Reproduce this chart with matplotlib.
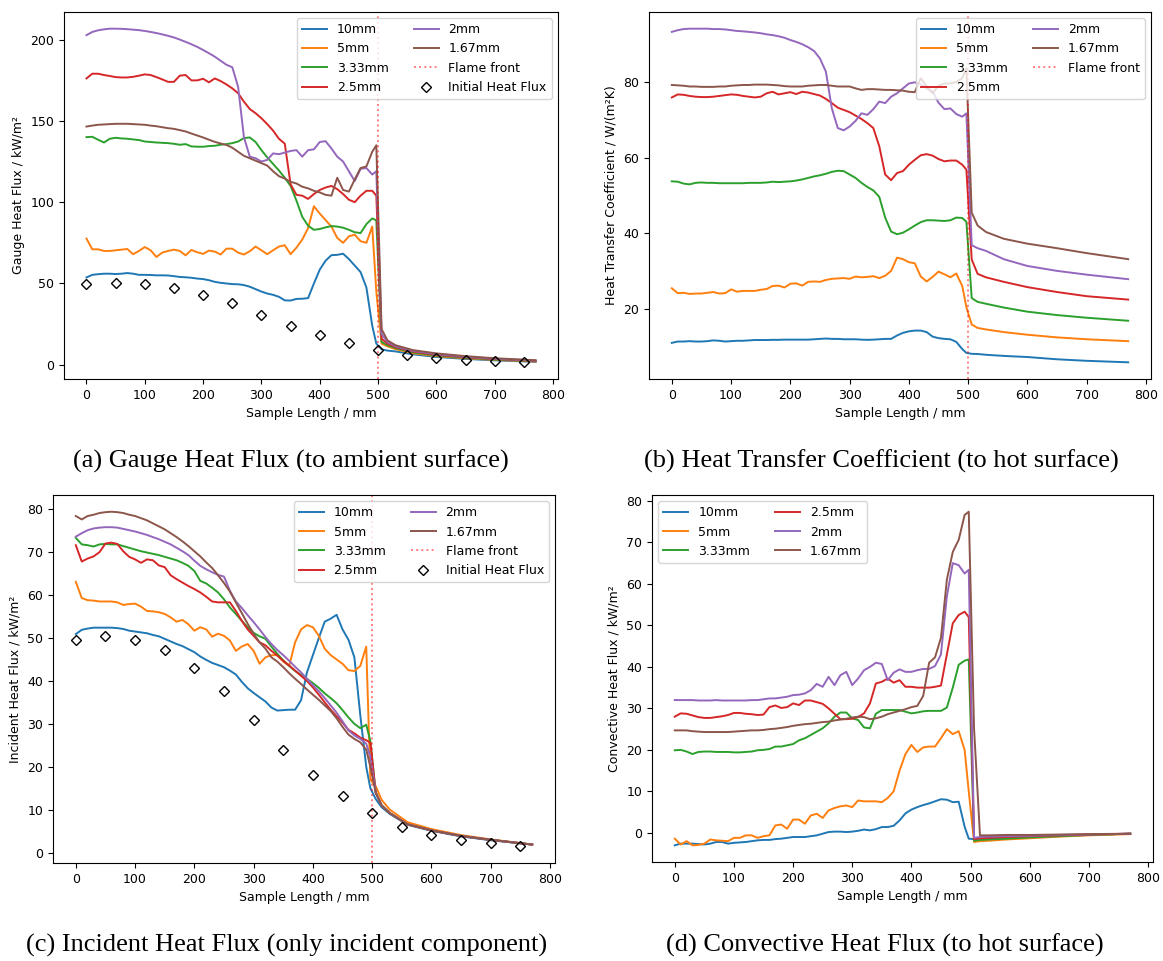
import matplotlib
matplotlib.use("Agg")
import matplotlib.pyplot as plt

plt.rcParams["font.size"] = 9
plt.rcParams["lines.linewidth"] = 1.4

# sample positions along the specimen (mm)
sample_x = list(range(0, 500, 10)) + [497, 506, 516, 530, 560, 600, 650, 700, 770]
thickness_labels = ["10mm", "5mm", "3.33mm", "2.5mm", "2mm", "1.67mm"]

# initial (calibration) heat flux, kW/m2
initial_x = [0, 50, 100, 150, 200, 250, 300, 350, 400, 450, 500, 550, 600, 650, 700, 750]
initial_flux = [49.5, 50.5, 49.5, 47.1, 43.1, 37.7, 30.9, 24.0, 18.2, 13.2, 9.3, 6.0, 4.2, 3.0, 2.2, 1.5]

# (a) gauge heat flux, kW/m2
gauge_10 = [53.7, 55.3, 55.7, 56, 56, 55.8, 56, 56.4, 56, 55.3, 55.3, 55.2, 55, 55, 54.9, 54.5, 54, 53.8, 53.5, 53,
            52.7, 52, 51, 50.4, 50, 49.6, 49.5, 49, 48, 46.5, 45, 43.8, 43, 41.8, 39.6, 39.5, 40.5, 40.6, 41, 50,
            58.5, 64, 67.4, 67.6, 68.3, 65, 61, 57, 47.5, 24, 13,
            9.5, 8.7, 8.2, 6.4, 4.8, 3.6, 2.7, 1.8]
gauge_5 = [77.6, 71, 71, 70, 70, 70.4, 70.8, 71.2, 68, 70, 72.4, 70.4, 66.3, 69, 70, 70.8, 70, 67.3, 70.6, 69.2,
           68.2, 70.2, 69.6, 67.8, 71.4, 71.4, 69, 67.8, 69.8, 72.7, 70.4, 68, 70.4, 72.7, 73.5, 68, 72, 77, 84, 97.5,
           93, 89, 85, 78, 75, 79, 80, 76, 75, 85, 45,
           13, 11.3, 9.6, 7.1, 5.3, 4.0, 3.0, 2.0]
gauge_333 = [140, 140.2, 138.4, 136.7, 139, 139.6, 139.2, 139, 138.6, 138.2, 137.3, 137, 136.7, 136.5, 136.3, 135.9,
             135.3, 135.7, 134.3, 134.1, 134.1, 134.5, 134.7, 135.3, 135.7, 136.3, 137.3, 139.4, 139.8, 137, 132,
             127.5, 123.5, 119.5, 115, 110, 101, 91, 85.5, 83, 83.5, 84.5, 85.3, 85, 84.3, 83, 81.5, 81, 86.5, 90,
             88.8,
             14, 12, 10.2, 7.6, 5.7, 4.3, 3.2, 2.2]
gauge_25 = [176.1, 179, 179, 178.2, 177.6, 176.9, 176.7, 176.7, 177.1, 177.8, 178.6, 178.2, 176.9, 175.5, 174, 174,
            177.8, 178.2, 174.9, 174.9, 175.9, 173.7, 176.1, 174.5, 172.4, 170, 167, 161.8, 157.3, 154.7, 151.6, 148,
            144, 139, 136, 111, 104.5, 104, 102, 105, 107.5, 109, 110, 108, 105, 101.5, 100, 104, 107, 107, 104,
            16, 13, 10.8, 8.1, 6.1, 4.6, 3.5, 2.4]
gauge_2 = [202.7, 204.7, 205.7, 206.3, 206.7, 206.7, 206.6, 206.4, 206.1, 205.8, 205.3, 204.7, 204, 203.2, 202.3,
           201.3, 200, 198.6, 197.1, 195.5, 193.6, 191.6, 189.5, 187, 184.5, 183, 171, 140, 128, 127, 125, 126, 130,
           129.5, 130.5, 131.5, 132, 128, 132, 132.5, 137, 137.5, 133, 128, 125, 119, 113, 120.5, 121, 117, 119,
           19, 14, 11.3, 8.5, 6.5, 4.9, 3.7, 2.6]
gauge_167 = [146.5, 147.1, 147.6, 147.8, 148, 148.2, 148.2, 148.2, 148, 147.8, 147.6, 147.1, 146.7, 146.1, 145.5,
             145.1, 144.3, 143.5, 142.2, 141, 139.8, 138.4, 137.1, 136.1, 135.2, 133.5, 131, 128.5, 127, 125.5, 124,
             122.5, 119, 116, 114.5, 112.5, 111.5, 109.5, 108.5, 107, 106, 104.5, 104, 115, 107.5, 106.5, 114, 121,
             122, 131, 135,
             22, 15, 12, 9, 7, 5.3, 4.0, 2.8]

# (b) heat transfer coefficient, W/(m2K)
htc_10 = [10.95, 11.3, 11.3, 11.4, 11.3, 11.3, 11.4, 11.6, 11.5, 11.3, 11.4, 11.5, 11.5, 11.6, 11.7, 11.7, 11.7,
          11.75, 11.75, 11.8, 11.8, 11.8, 11.8, 11.8, 11.9, 12, 12.1, 12, 12, 11.9, 11.9, 11.9, 11.8, 11.75, 11.8,
          11.9, 12, 12, 12.9, 13.6, 14, 14.2, 14.2, 13.8, 12.6, 12.2, 12, 11.9, 11.2, 9.3, 8.3,
          8.05, 8.0, 7.8, 7.5, 7.2, 6.6, 6.2, 5.8]
htc_5 = [25.4, 24.1, 24.2, 23.9, 24, 24, 24.2, 24.4, 24, 24.1, 25.1, 24.5, 24.7, 24.7, 24.7, 25, 25.2, 26, 26.1,
         25.6, 26.6, 26.7, 26.1, 27.1, 27.2, 27.1, 27.6, 27.9, 28, 28.1, 27.9, 28.5, 28.3, 28.4, 28.6, 28.1, 28.7, 30,
         33.5, 33.1, 32.3, 32, 28.5, 27.2, 28.4, 29.8, 29.1, 28.3, 29.3, 26, 20.4,
         15.8, 14.9, 14.5, 13.8, 13.1, 12.4, 11.9, 11.4]
htc_333 = [53.7, 53.6, 53.1, 52.9, 53.3, 53.4, 53.3, 53.3, 53.2, 53.2, 53.2, 53.2, 53.2, 53.3, 53.3, 53.3, 53.4, 53.6,
           53.5, 53.6, 53.7, 53.9, 54.2, 54.6, 55, 55.3, 55.7, 56.2, 56.5, 56.4, 55.5, 54.6, 53.3, 52.2, 51.3, 49.6,
           44.1, 40.4, 39.7, 40.1, 41, 42, 42.9, 43.4, 43.4, 43.3, 43.2, 43.4, 44.1, 44, 43,
           22.8, 21.8, 21.3, 20.3, 19.2, 18.3, 17.6, 16.8]
htc_25 = [75.9, 76.7, 76.6, 76.3, 76.1, 76, 76, 76.1, 76.3, 76.5, 76.7, 76.6, 76.3, 76.1, 75.9, 76.1, 77, 77.4, 76.7,
          77, 77.3, 76.8, 77.4, 77.2, 76.8, 76.4, 75.5, 74.4, 73.2, 72.6, 72, 71.1, 70.2, 69.1, 67.8, 63, 55.5, 54,
          55.9, 56.4, 58.1, 59.4, 60.6, 60.9, 60.5, 59.6, 59, 59.2, 59.2, 58.1, 56.8,
          33, 29.2, 28.3, 27.1, 25.7, 24.4, 23.3, 22.4]
htc_2 = [93.25, 93.7, 94, 94.1, 94.1, 94.1, 94.1, 94, 94, 93.9, 93.7, 93.5, 93.4, 93.25, 93.1, 92.9, 92.6, 92.4,
         92.1, 91.7, 91.1, 90.6, 90, 89.2, 88.2, 86.2, 82.7, 73, 67.8, 67.2, 68.2, 69.7, 71.7, 71.3, 72.8, 74.8, 74.4,
         76.1, 77, 78.3, 79.6, 79.9, 79.4, 78.3, 77.5, 74.5, 72.8, 73, 71.5, 70.8, 71.7,
         36.8, 36, 35.3, 33.1, 31.3, 30, 29, 27.8]
htc_167 = [79.2, 79.1, 79, 78.8, 78.8, 78.7, 78.7, 78.7, 78.8, 78.8, 79, 79.1, 79.2, 79.2, 79.3, 79.3, 79.3, 79.2,
           79.1, 78.9, 78.8, 78.8, 78.8, 79, 79.1, 79.2, 79.2, 79, 78.8, 78.8, 78.8, 78.3, 77.9, 78.1, 78.1, 78, 77.9,
           77.9, 77.8, 77.7, 77.4, 77.3, 81, 78.8, 77, 79, 79.6, 79.6, 80, 81, 83.6,
           45.4, 42, 40.3, 38.5, 37.2, 36, 34.7, 33.1]

# (c) incident heat flux, kW/m2
inc_10 = [50.9, 51.9, 52.2, 52.4, 52.4, 52.4, 52.4, 52.3, 52.1, 51.7, 51.5, 51.3, 51.1, 50.7, 50.4, 49.8, 49.2, 48.6,
          48.1, 47.4, 46.7, 45.7, 44.9, 44.2, 43.7, 43.2, 42.4, 41.5, 39.8, 38.3, 37.2, 36.2, 35.2, 33.8, 33.1, 33.2,
          33.3, 33.3, 35.5, 42, 46, 50, 53.8, 54.5, 55.4, 52, 49.6, 45.5, 32, 20, 15,
          12.5, 10.6, 9.0, 6.5, 5.1, 3.8, 2.9, 1.9]
inc_5 = [63.1, 59.3, 58.8, 58.7, 58.5, 58.5, 58.5, 58.3, 57.7, 57.9, 58, 57.3, 56.3, 56.2, 56, 55.6, 54.8, 53.8,
         54.2, 53.2, 51.7, 52.5, 52, 50.3, 51, 50.5, 49.4, 47, 48, 48.6, 47, 44, 45.5, 46, 46, 44.5, 43.5, 49, 52, 53,
         52.5, 50.5, 47.5, 46, 45, 44, 42.5, 42.3, 43.5, 48, 17,
         15.5, 12.3, 10, 7.1, 5.5, 4.1, 3.1, 1.9]
inc_333 = [73.3, 71.8, 71.6, 71.3, 71.8, 71.9, 71.8, 71.8, 71.4, 71, 70.6, 70.2, 69.9, 69.6, 69.3, 68.9, 68.5, 68.1,
           67.5, 66.8, 65.6, 63.3, 62.7, 61.7, 60.6, 59, 57.1, 55.6, 54, 52.5, 51.2, 50.4, 49.8, 48, 46.3, 44.8, 43.5,
           42.3, 41.4, 40.5, 39.5, 38.4, 37.1, 36, 34.8, 33.2, 31.5, 30, 29, 29.8, 26,
           14, 11, 9.2, 6.6, 5.2, 3.9, 3.0, 1.9]
inc_25 = [71.6, 67.8, 68.5, 69, 70, 72, 72.2, 71.9, 70.2, 68.9, 68.3, 67.5, 68.3, 68.1, 66.9, 66.5, 64.6, 63.7, 62.9,
          62.1, 61.4, 60.6, 59.6, 58.5, 58.3, 58.3, 58.3, 56.3, 54, 52, 50.5, 49, 48.3, 47, 45.9, 44.7, 43.6, 42.4,
          41.2, 40, 38.5, 36.8, 35, 33.3, 31.8, 30.3, 28.6, 27.8, 26.8, 26.2, 25.6,
          14, 11, 9.2, 6.6, 5.2, 3.9, 3.0, 1.9]
inc_2 = [73.6, 74.4, 75.1, 75.5, 75.7, 75.8, 75.8, 75.7, 75.4, 75.1, 74.8, 74.4, 74, 73.5, 73, 72.4, 71.8, 71, 70.2,
         69.3, 68, 66.8, 66, 65.3, 64.7, 64.3, 61, 58.5, 57, 55.3, 53.7, 52, 50.2, 48.6, 47.2, 46, 44.7, 43.3, 42,
         40.5, 39, 37.6, 36, 34.3, 32.6, 30.6, 28.5, 27.3, 26.5, 25.4, 22.3,
         14, 11, 9.2, 6.6, 5.2, 3.9, 3.0, 1.9]
inc_167 = [78.4, 77.6, 78.4, 78.7, 79.1, 79.3, 79.4, 79.3, 79.1, 78.7, 78.4, 77.9, 77.4, 76.7, 76, 75.3, 74.4, 73.5,
           72.5, 71.4, 70.2, 69, 67.6, 66.3, 64.6, 62.8, 60.8, 58.3, 55.8, 53.3, 51, 49, 47.5, 45.5, 44.5, 43.2,
           41.8, 40.5, 39.3, 38, 36.8, 35.6, 34.3, 33, 31.3, 29.3, 27.5, 26.5, 25.7, 24, 20,
           14, 11, 9.2, 6.6, 5.2, 3.9, 3.0, 1.9]

# (d) convective heat flux, kW/m2
conv_10 = [-3, -2.6, -2.6, -2.6, -2.7, -2.8, -2.6, -2.2, -2.2, -2.6, -2.4, -2.3, -2.2, -2, -1.8, -1.7, -1.7, -1.5,
           -1.4, -1.2, -1, -1, -1, -0.8, -0.6, -0.2, 0.2, 0.3, 0.3, 0.2, 0.3, 0.5, 0.8, 0.6, 0.9, 1.4, 1.4, 1.7, 3,
           4.7, 5.6, 6.2, 6.7, 7.1, 7.6, 8.1, 8, 7.4, 7.5, 1.5, -1.4,
           -1.5, -1.5, -1.4, -1.2, -1.0, -0.7, -0.5, -0.2]
conv_5 = [-1.4, -2.8, -2, -3, -2.9, -2.6, -1.6, -1.8, -1.9, -2, -1.2, -1.2, -0.6, -0.6, -1.2, -0.8, -0.6, 1.8, 2, 1,
          3.2, 3.2, 2.2, 4.2, 4.6, 3.6, 5.4, 6, 6.4, 6.6, 6.2, 7.8, 7.6, 7.6, 7.6, 7.4, 8.4, 10, 15, 19, 21.2, 19.5,
          20.6, 20.8, 20.8, 22.8, 25, 23.8, 24.5, 20, 10,
          -2.2, -2.0, -1.9, -1.6, -1.3, -0.9, -0.6, -0.3]
conv_333 = [19.9, 20, 19.6, 19, 19.5, 19.6, 19.6, 19.5, 19.5, 19.5, 19.4, 19.4, 19.5, 19.6, 19.9, 20, 20.2, 20.8,
            20.8, 21.1, 21.4, 22.3, 22.8, 23.6, 24.4, 25.2, 26.4, 28, 29, 29, 27.6, 27.2, 25.4, 25.2, 28.7, 29.6,
            29.6, 29.6, 29.6, 29.2, 28.8, 29, 29.3, 29.4, 29.4, 29.4, 30.2, 35, 40.5, 41.5, 41.8,
            -1.9, -1.7, -1.6, -1.4, -1.1, -0.8, -0.5, -0.2]
conv_25 = [28, 28.8, 28.7, 28.3, 27.9, 27.7, 27.7, 27.9, 28.1, 28.4, 28.9, 28.9, 28.7, 28.6, 28.4, 28.5, 30.3, 30.7,
           30.1, 30.3, 31.2, 30.8, 31.9, 31.9, 31.5, 31.1, 30, 28.7, 27.4, 27.4, 27.5, 27.9, 28.8, 31.2, 36, 36.4,
           37.2, 36.2, 36.8, 35.2, 35.2, 35, 35, 35, 35.2, 35.5, 43, 50.5, 52.5, 53.3, 52,
           -1.5, -1.3, -1.2, -1.0, -0.8, -0.6, -0.4, -0.2]
conv_2 = [32, 32, 32, 32, 31.9, 31.9, 31.9, 32, 31.9, 31.9, 31.9, 31.9, 31.9, 32, 32, 32.2, 32.4, 32.4, 32.6, 32.8,
          33.2, 33.3, 33.6, 34.4, 35.9, 35.2, 37.6, 35.6, 38, 38.8, 35.6, 37.2, 39.2, 40, 41, 40.7, 36.8, 38.6, 39.4,
          38.8, 38.8, 39.2, 39.5, 39.5, 40.2, 43, 57, 65, 64.5, 62.5, 63.4,
          -1.2, -1.0, -0.9, -0.8, -0.7, -0.5, -0.4, -0.2]
conv_167 = [24.7, 24.7, 24.7, 24.5, 24.4, 24.3, 24.3, 24.3, 24.3, 24.3, 24.4, 24.5, 24.6, 24.7, 24.7, 24.8, 25, 25.1,
            25.3, 25.5, 25.8, 26, 26.2, 26.3, 26.5, 26.7, 26.8, 27.1, 27.3, 27.5, 27.8, 28, 27.9, 27.4, 27.6, 28,
            28.6, 29, 29.4, 29.8, 30.3, 30.6, 33, 41, 42.3, 47, 61, 67.7, 70.6, 76.6, 77.4,
            25, -0.6, -0.6, -0.5, -0.5, -0.4, -0.3, -0.2]

W, H = 1163, 961


def panel(fig, box, series, ylabel, flame=True, initial=False, loc="upper right"):
    l, t, r, b = box
    ax = fig.add_axes([l / W, 1 - b / H, (r - l) / W, (b - t) / H])
    for vals, lab in zip(series, thickness_labels):
        ax.plot(sample_x, vals, label=lab)
    if flame:
        ax.axvline(500, color="red", linestyle=":", alpha=0.5, label="Flame front")
    if initial:
        ax.plot(initial_x, initial_flux, "D", mfc="none", mec="black", color="black",
                ms=5.6, label="Initial Heat Flux")
    ax.set_xticks(range(0, 900, 100))
    ax.set_xlabel("Sample Length / mm")
    ax.set_ylabel(ylabel)
    ax.legend(ncol=2, loc=loc)
    return ax


fig = plt.figure(figsize=(W / 100, H / 100), dpi=100)

panel(fig, (64, 12, 558, 379), [gauge_10, gauge_5, gauge_333, gauge_25, gauge_2, gauge_167],
      "Gauge Heat Flux / kW/m²", initial=True)
panel(fig, (649, 12, 1151, 379), [htc_10, htc_5, htc_333, htc_25, htc_2, htc_167],
      "Heat Transfer Coefficient / W/(m²K)")
panel(fig, (53, 495, 555, 863), [inc_10, inc_5, inc_333, inc_25, inc_2, inc_167],
      "Incident Heat Flux / kW/m²", initial=True)
panel(fig, (652, 495, 1153, 862), [conv_10, conv_5, conv_333, conv_25, conv_2, conv_167],
      "Convective Heat Flux / kW/m²", flame=False, loc="upper left")

captions = [
    (291, 461, "(a) Gauge Heat Flux (to ambient surface)"),
    (881, 461, "(b) Heat Transfer Coefficient (to hot surface)"),
    (287, 945, "(c) Incident Heat Flux (only incident component)"),
    (885, 945, "(d) Convective Heat Flux (to hot surface)"),
]
for cx, cy, txt in captions:
    fig.text(cx / W, 1 - cy / H, txt, ha="center", va="center",
             family="Liberation Serif", fontsize=19)

fig.savefig("out.png", dpi=100)
